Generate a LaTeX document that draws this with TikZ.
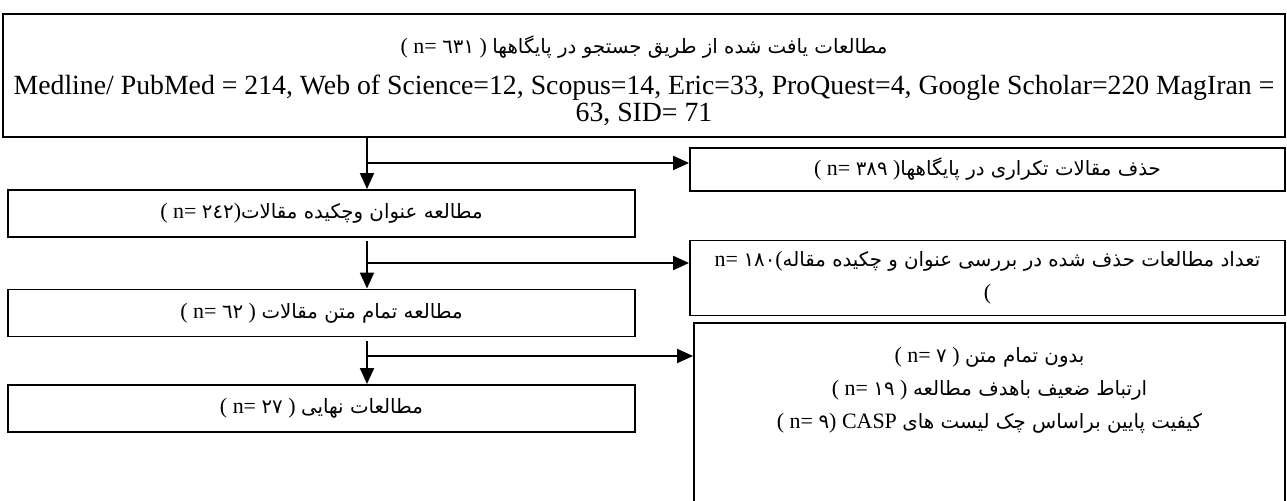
\documentclass[tikz,border=0pt]{standalone}
\usepackage{fontspec}
\setmainfont{Liberation Serif}
\newfontfamily\fafont[Script=Arabic,Scale=0.9]{DejaVu Sans}
\TeXXeTstate=1
\newcommand{\fa}[1]{{\fafont\beginR #1\endR}}
\newcommand{\fanum}[1]{{\fafont #1}}
\usetikzlibrary{arrows.meta,positioning}

\begin{document}
\begin{tikzpicture}[
    x=0.02cm, y=-0.02cm,
    stage/.style={rectangle, draw=black, line width=1.1pt, align=center, minimum width=12.54cm, minimum height=0.94cm, font=\fontsize{12.5}{19}\selectfont},
    removed/.style={rectangle, draw=black, line width=1.1pt, align=center, minimum width=11.9cm, font=\fontsize{12.5}{19}\selectfont},
    arrow/.style={-{Triangle[length=0.32cm,width=0.28cm]}, line width=1.1pt}
]
\useasboundingbox (0,0) rectangle (1287,500);

% records found in the databases
\node[draw=black, line width=1.1pt, minimum width=25.64cm, align=center, anchor=north,
      text height=2.04cm, text depth=0.18cm,
      font=\fontsize{15.8}{15.5}\selectfont] (search) at (644,13)
    {{\fontsize{12.5}{15.5}\selectfont ( n= \fanum{٦٣١} ) \fa{مطالعات یافت شده از طریق جستجو در پایگاهها}}\\[8pt]
     Medline/ PubMed = 214, Web of Science=12, Scopus=14, Eric=33, ProQuest=4, Google Scholar=220 MagIran =\\
     63, SID= 71};

% left column
\node[stage] (screen) at (321.5,213.5) {( n= \fanum{٢٤٢})\fa{مطالعه عنوان وچکیده مقالات}};
\node[stage] (fulltext) at (321.5,313) {( n= \fanum{٦٢} ) \fa{مطالعه تمام متن مقالات}};
\node[stage] (final) at (321.5,408.5) {( n= \fanum{٢٧} ) \fa{مطالعات نهایی}};

% right column
\node[removed, minimum height=0.86cm] (dup) at (987.5,169.5) {( n= \fanum{٣٨٩} )\fa{حذف مقالات تکراری در پایگاهها}};
\node[removed, minimum height=1.5cm] (excl1) at (987.5,278)
    {n= \fanum{١٨٠}(\fa{تعداد مطالعات حذف شده در بررسی عنوان و چکیده مقاله}\\ (};
\node[removed, minimum width=11.82cm, anchor=north, text height=2.0cm, text depth=1.36cm] (excl2) at (989.5,322)
    {( n= \fanum{٧} ) \fa{بدون تمام متن}\\
     ( n= \fanum{١٩} ) \fa{ارتباط ضعیف باهدف مطالعه}\\
     ( n= \fanum{٩}) CASP \fa{کیفیت پایین براساس چک لیست های}};

% flow
\coordinate (spine) at (367,0);
\coordinate (b1) at (367,163);
\coordinate (b2) at (367,263);
\coordinate (b3) at (367,356);
\draw[arrow] (search.south -| spine) -- (screen.north -| spine);
\draw[arrow] ([yshift=-2pt]screen.south -| spine) -- (fulltext.north -| spine);
\draw[arrow] ([yshift=-2pt]fulltext.south -| spine) -- (final.north -| spine);
\draw[arrow] (b1) -- (b1 -| dup.west);
\draw[arrow] (b2) -- (b2 -| excl1.west);
\draw[arrow] (b3) -- (b3 -| excl2.west);
\end{tikzpicture}
\end{document}
